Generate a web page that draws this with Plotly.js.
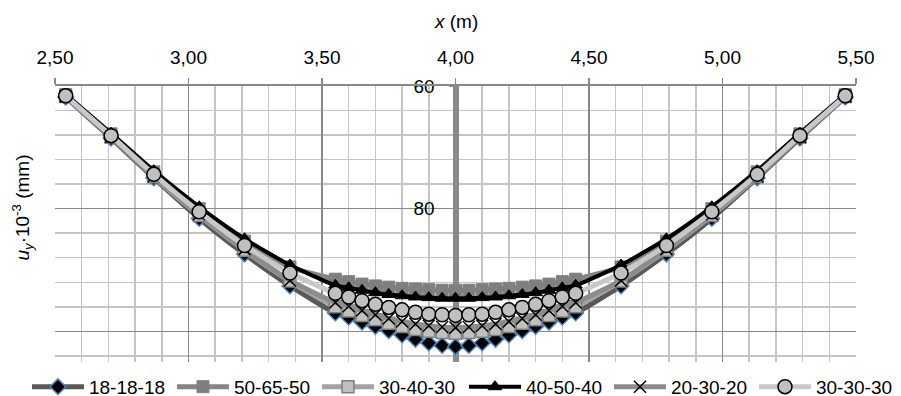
<!DOCTYPE html>
<html>
<head>
<meta charset="utf-8">
<script src="https://cdn.plot.ly/plotly-3.0.1.min.js"></script>
<style>
html,body{margin:0;padding:0;background:#fff;}
#chart{width:901px;height:396px;}
</style>
</head>
<body>
<div id="chart"></div>
<script>
// x positions (m)
var xPos = [2.54,2.71,2.87,3.04,3.21,3.38,3.55,3.60,3.65,3.70,3.75,3.80,3.85,3.90,3.95,4.00,
            4.05,4.10,4.15,4.20,4.25,4.30,4.35,4.40,4.45,4.62,4.79,4.96,5.13,5.29,5.46];
// series names
var seriesNames = ["18-18-18","50-65-50","30-40-30","40-50-40","20-30-20","30-30-30"];
// u_y·10^-3 (mm)
var s181818 = [61.8,68.5,75.0,81.6,87.4,92.6,97.0,97.7,98.5,99.2,99.9,100.6,101.3,101.9,102.3,102.5,
               102.3,101.9,101.3,100.6,99.9,99.2,98.5,97.7,97.0,92.6,87.4,81.6,75.0,68.5,61.8];
var s506550 = [61.4,67.8,74.0,80.0,85.3,89.5,91.5,91.9,92.3,92.6,92.8,93.0,93.1,93.2,93.3,93.3,
               93.3,93.2,93.1,93.0,92.8,92.6,92.3,91.9,91.5,89.5,85.3,80.0,74.0,67.8,61.4];
var s304030 = [61.7,68.3,74.8,81.1,86.8,91.8,96.0,96.7,97.4,98.1,98.7,99.2,99.7,100.0,100.2,100.3,
               100.2,100.0,99.7,99.2,98.7,98.1,97.4,96.7,96.0,91.8,86.8,81.1,74.8,68.3,61.7];
var s405040 = [61.4,67.7,73.8,79.7,84.9,89.2,92.5,92.9,93.3,93.7,94.0,94.2,94.4,94.5,94.6,94.6,
               94.6,94.5,94.4,94.2,94.0,93.7,93.3,92.9,92.5,89.2,84.9,79.7,73.8,67.7,61.4];
var s203020 = [61.7,68.3,74.7,80.9,86.6,91.7,95.3,95.9,96.6,97.3,97.9,98.4,98.8,99.1,99.3,99.4,
               99.3,99.1,98.8,98.4,97.9,97.3,96.6,95.9,95.3,91.7,86.6,80.9,74.7,68.3,61.7];
var s303030 = [61.6,68.1,74.4,80.5,86.0,90.5,93.8,94.4,95.0,95.6,96.1,96.5,96.9,97.2,97.3,97.4,
               97.3,97.2,96.9,96.5,96.1,95.6,95.0,94.4,93.8,90.5,86.0,80.5,74.4,68.1,61.6];
var xTicks = [2.5,3.0,3.5,4.0,4.5,5.0,5.5];
var yTicks = [60,80,100];

var seriesData = [s181818,s506550,s304030,s405040,s203020,s303030];
var styles = [
  {line:{color:'#595959',width:5}, marker:{symbol:'diamond',size:12,color:'#000000',line:{color:'#4f81bd',width:1.5}}},
  {line:{color:'#858585',width:5}, marker:{symbol:'square',size:12,color:'#7f7f7f',line:{color:'#7f7f7f',width:1}}},
  {line:{color:'#a3a3a3',width:5}, marker:{symbol:'square',size:12,color:'#c0c0c0',line:{color:'#7f7f7f',width:1.5}}},
  {line:{color:'#000000',width:4}, marker:{symbol:'triangle-up',size:12,color:'#000000',line:{color:'#000000',width:1}}},
  {line:{color:'#8c8c8c',width:5}, marker:{symbol:'x-thin-open',size:12,color:'#000000',line:{color:'#000000',width:1.5}}},
  {line:{color:'#c8c8c8',width:5}, marker:{symbol:'circle',size:14,color:'#c0c0c0',line:{color:'#000000',width:1.5}}}
];

var traces = seriesNames.map(function(nm,i){
  return {
    type:'scatter', mode:'lines+markers', name:nm,
    x:xPos, y:seriesData[i],
    legend: i < 3 ? 'legend' : 'legend2',
    line:Object.assign({shape:'spline',smoothing:0.6}, styles[i].line),
    marker:styles[i].marker,
    hoverinfo:'skip'
  };
});

var font = {family:'"Liberation Sans", Arial, sans-serif', size:19, color:'#000'};
var legFont = {family:font.family, size:19, color:'#000'};

var layout = {
  width:901, height:396,
  margin:{l:55,r:45,t:86,b:34,pad:0,autoexpand:false},
  paper_bgcolor:'#ffffff', plot_bgcolor:'#ffffff',
  separators:',.',
  font:font,
  showlegend:true,
  legend:{orientation:'h', x:-0.035, xanchor:'left', y:-0.09, yanchor:'middle',
          font:legFont, itemwidth:52, entrywidth:78, entrywidthmode:'pixels',
          traceorder:'normal', bgcolor:'rgba(0,0,0,0)'},
  legend2:{orientation:'h', x:0.5106, xanchor:'left', y:-0.09, yanchor:'middle',
          font:legFont, itemwidth:52, entrywidth:78, entrywidthmode:'pixels',
          traceorder:'normal', bgcolor:'rgba(0,0,0,0)'},
  xaxis:{
    side:'top', range:[2.5,5.5], tickvals:xTicks, tickformat:'.2f',
    showgrid:true, gridcolor:'#888888', gridwidth:1.5,
    minor:{dtick:0.1, tick0:2.5, showgrid:true, gridcolor:'#c4c4c4', gridwidth:1.5, ticks:''},
    showline:true, linecolor:'#888888', linewidth:2,
    ticks:'outside', ticklen:6, tickcolor:'#888888', tickwidth:1.5,
    ticklabelstandoff:6,
    zeroline:false, tickfont:font, fixedrange:true
  },
  yaxis:{
    range:[105,60], tickvals:yTicks, tickformat:'d',
    anchor:'free', position:0.5, side:'left',
    showgrid:true, gridcolor:'#888888', gridwidth:1.5,
    minor:{dtick:4, tick0:60, showgrid:true, gridcolor:'#c4c4c4', gridwidth:1.5, ticks:''},
    showline:true, linecolor:'#8a8a8a', linewidth:6,
    ticks:'outside', ticklen:4, tickcolor:'#8a8a8a', tickwidth:1.5,
    ticklabelstandoff:10,
    layer:'below traces',
    zeroline:false, tickfont:font, fixedrange:true
  },
  annotations:[
    {text:'<i>x</i> (m)', xref:'paper', yref:'paper', x:0.5, y:1.2355, xanchor:'center', yanchor:'middle',
     showarrow:false, font:font},
    {text:'<i>u</i><sub><i>y</i></sub>·10<sup>-3</sup> (mm)', xref:'paper', yref:'paper',
     x:-0.041, y:0.56, xanchor:'center', yanchor:'middle', textangle:-90, showarrow:false, font:font}
  ]
};

Plotly.newPlot('chart', traces, layout, {displayModeBar:false, staticPlot:true});
</script>
</body>
</html>
